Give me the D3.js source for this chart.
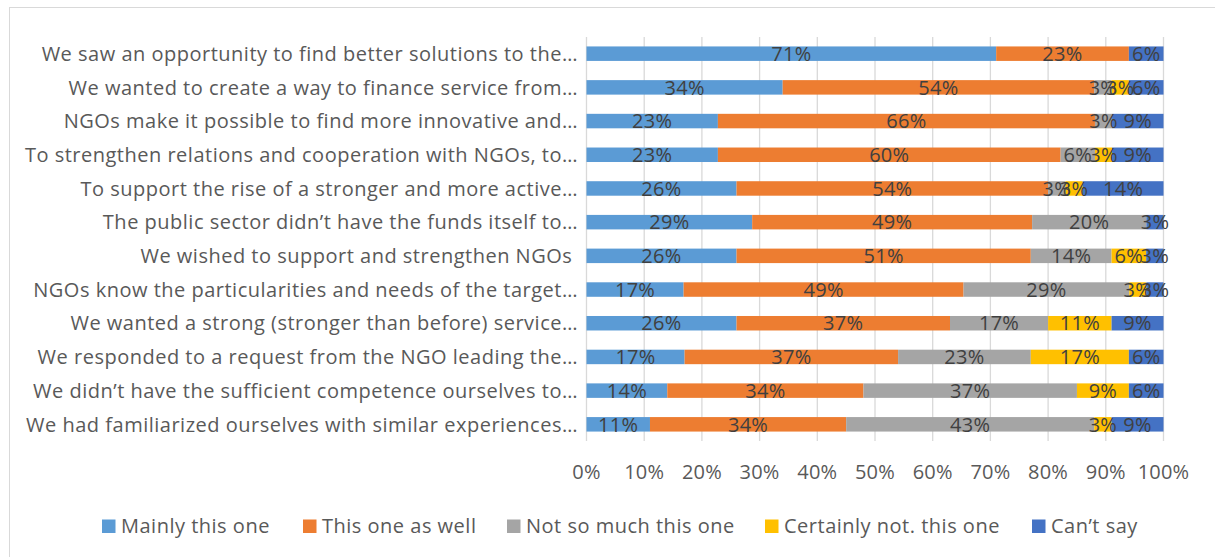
<!DOCTYPE html>
<html>
<head>
<meta charset="utf-8">
<script src="https://cdn.jsdelivr.net/npm/d3@7"></script>
<style>
  body { margin: 0; background: #fff; }
  svg { display: block; font-family: "Open Sans", Lato, sans-serif; }
  text { white-space: pre; }
</style>
</head>
<body>
<div id="chart"><svg width="1215" height="557"></svg></div>
<script>
const CATEGORIES = [
  'We saw an opportunity to find better solutions to the…',
  'We wanted to create a way to finance service from…',
  'NGOs make it possible to find more innovative and…',
  'To strengthen relations and cooperation with NGOs, to…',
  'To support the rise of a stronger and more active…',
  'The public sector didn’t have the funds itself to…',
  'We wished to support and strengthen NGOs ',
  'NGOs know the particularities and needs of the target…',
  'We wanted a strong (stronger than before) service…',
  'We responded to a request from the NGO leading the…',
  'We didn’t have the sufficient competence ourselves to…',
  'We had familiarized ourselves with similar experiences…',
];
const SERIES = ['Mainly this one', 'This one as well', 'Not so much this one', 'Certainly not. this one', 'Can’t say'];
const COLORS = ['#5B9BD5', '#ED7D31', '#A5A5A5', '#FFC000', '#4472C4'];
const MAINLY = [71, 34, 23, 23, 26, 29, 26, 17, 26, 17, 14, 11];
const AS_WELL = [23, 54, 66, 60, 54, 49, 51, 49, 37, 37, 34, 34];
const NOT_MUCH = [0, 3, 3, 6, 3, 20, 14, 29, 17, 23, 37, 43];
const CERTAINLY_NOT = [0, 3, 0, 3, 3, 0, 6, 3, 11, 17, 9, 3];
const CANT_SAY = [6, 6, 9, 9, 14, 3, 3, 3, 9, 6, 6, 9];
const TICKS = [0, 0.1, 0.2, 0.3, 0.4, 0.5, 0.6, 0.7, 0.8, 0.9, 1];

const VALUES = [MAINLY, AS_WELL, NOT_MUCH, CERTAINLY_NOT, CANT_SAY];
const data = CATEGORIES.map((c, i) => {
  const row = { category: c };
  SERIES.forEach((s, j) => { row[s] = VALUES[j][i]; });
  return row;
});

const SVG = d3.select('#chart svg');

// chart frame
SVG.append('rect')
  .attr('x', 9.5).attr('y', 7.5)
  .attr('width', 1220).attr('height', 560)
  .attr('fill', 'none')
  .attr('stroke', '#D9D9D9');

const X = d3.scaleLinear().domain([0, 1]).range([586.5, 1163.5]);
const Y = d3.scaleBand().domain(CATEGORIES).range([37, 441]).paddingInner(0.57).paddingOuter(0.28);

// gridlines
SVG.append('g')
  .selectAll('line')
  .data(TICKS)
  .join('line')
  .attr('x1', (d) => X(d)).attr('x2', (d) => X(d))
  .attr('y1', 37).attr('y2', 441)
  .attr('stroke', '#D9D9D9')
  .attr('stroke-width', 1.3);

const stacked = d3.stack().keys(SERIES).offset(d3.stackOffsetExpand)(data);

const BARS = SVG.append('g');
stacked.forEach((layer, j) => {
  BARS.append('g')
    .attr('fill', COLORS[j])
    .selectAll('rect')
    .data(layer)
    .join('rect')
    .attr('x', (d) => X(d[0]))
    .attr('y', (d) => Y(d.data.category))
    .attr('width', (d) => X(d[1]) - X(d[0]))
    .attr('height', Y.bandwidth());
});

// data labels
stacked.forEach((layer, j) => {
  BARS.append('g')
    .selectAll('text')
    .data(layer.filter((d) => d.data[SERIES[j]] > 0))
    .join('text')
    .attr('x', (d) => X((d[0] + d[1]) / 2))
    .attr('y', (d) => Y(d.data.category) + Y.bandwidth() / 2)
    .attr('dy', '0.36em')
    .attr('text-anchor', 'middle')
    .style('font-size', '20px')
    .style('letter-spacing', '0.3px')
    .style('fill', '#404040')
    .text((d) => `${d.data[SERIES[j]]}%`);
});

// category labels
SVG.append('g')
  .selectAll('text')
  .data(CATEGORIES)
  .join('text')
  .attr('x', 578)
  .attr('y', (d) => Y(d) + Y.bandwidth() / 2)
  .attr('dy', '0.36em')
  .attr('text-anchor', 'end')
  .style('font-size', '20px')
  .style('letter-spacing', '0.5px')
  .style('fill', '#595959')
  .text((d) => d);

// x axis labels
SVG.append('g')
  .selectAll('text')
  .data(TICKS)
  .join('text')
  .attr('x', (d) => X(d))
  .attr('y', 472)
  .attr('dy', '0.36em')
  .attr('text-anchor', 'middle')
  .style('font-size', '20px')
  .style('letter-spacing', '0.2px')
  .style('fill', '#595959')
  .text((d) => d3.format('.0%')(d));

// legend
const LEGEND_X = [102, 303, 507, 765, 1032];
const LEGEND = SVG.append('g');
SERIES.forEach((s, j) => {
  LEGEND.append('rect')
    .attr('x', LEGEND_X[j]).attr('y', 519.5)
    .attr('width', 13.5).attr('height', 13.5)
    .attr('fill', COLORS[j]);
  LEGEND.append('text')
    .attr('x', LEGEND_X[j] + 19)
    .attr('y', 526)
    .attr('dy', '0.36em')
    .style('font-size', '20px')
    .style('letter-spacing', '0.5px')
    .style('fill', '#595959')
    .text(s);
});
</script>
</body>
</html>
